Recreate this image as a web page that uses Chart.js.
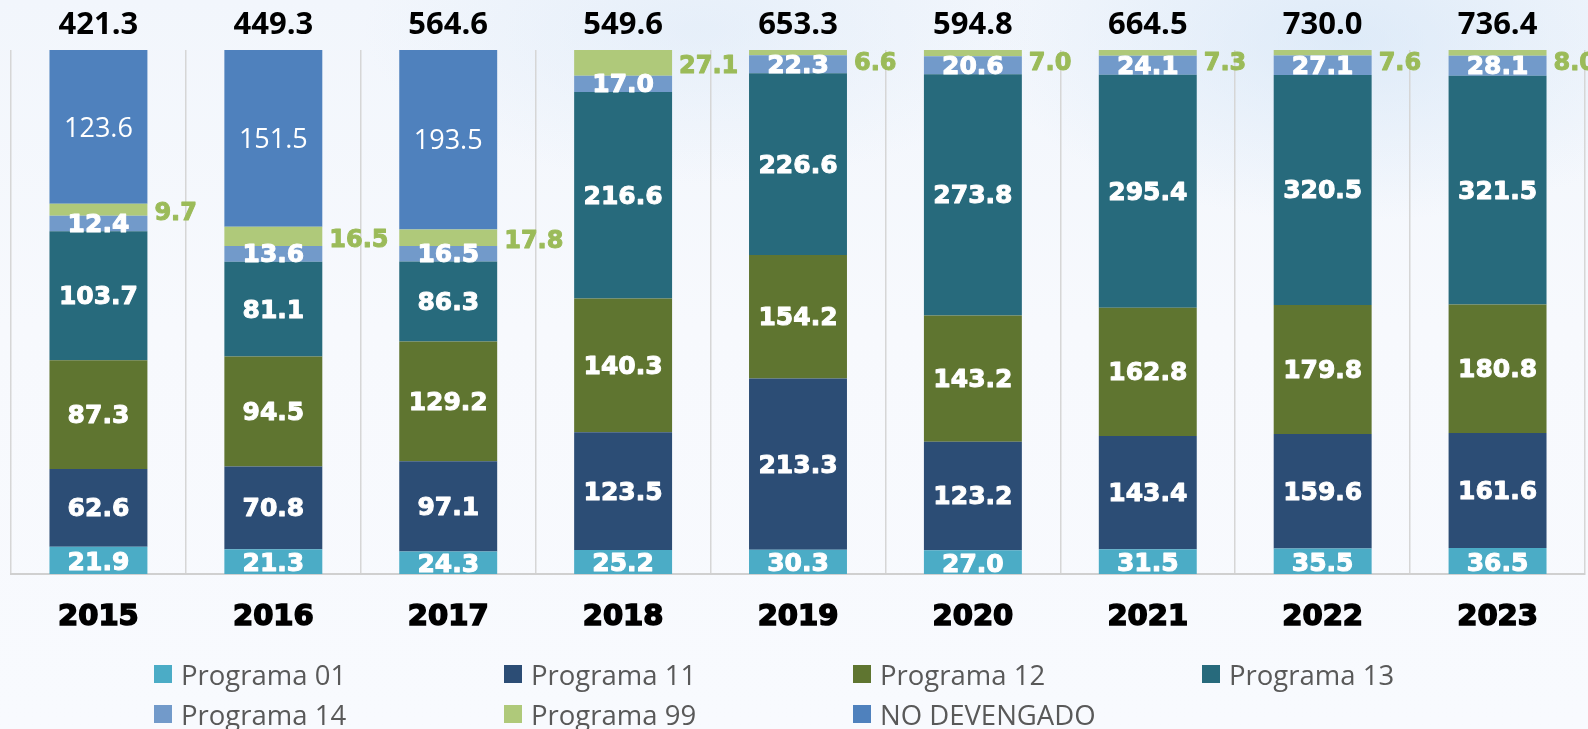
<!DOCTYPE html>
<html>
<head>
<meta charset="utf-8">
<script src="https://cdn.jsdelivr.net/npm/chart.js@4.4.1/dist/chart.umd.min.js"></script>
<style>
    html, body { margin: 0; padding: 0; }
    body {
        width: 1588px; height: 729px; overflow: hidden; position: relative;
        background:
            radial-gradient(ellipse 520px 260px at 1350px 40px, rgba(205, 225, 245, 0.55), rgba(205, 225, 245, 0) 70%),
            radial-gradient(ellipse 480px 220px at 700px 30px, rgba(215, 230, 246, 0.45), rgba(215, 230, 246, 0) 70%),
            linear-gradient(180deg, #f2f6fc 0%, #f7f9fd 45%, #f8fafe 100%);
    }
    #wrap { position: absolute; left: 0; top: 0; width: 1588px; height: 729px; }
    #legend { position: absolute; left: 0; top: 0; width: 1588px; height: 729px; pointer-events: none; }
    .item {
        position: absolute; display: flex; align-items: center;
        font-family: 'Open Sans', sans-serif; font-size: 27.5px; color: #595959;
        white-space: nowrap;
    }
    .item span.box { width: 18px; height: 18px; margin-right: 9px; display: inline-block; }
</style>
</head>
<body>
<div id="wrap"><canvas id="chart"></canvas></div>
<div id="legend"></div>
<script>
const years = ['2015', '2016', '2017', '2018', '2019', '2020', '2021', '2022', '2023'];
const programa01 = [21.9, 21.3, 24.3, 25.2, 30.3, 27.0, 31.5, 35.5, 36.5];
const programa11 = [62.6, 70.8, 97.1, 123.5, 213.3, 123.2, 143.4, 159.6, 161.6];
const programa12 = [87.3, 94.5, 129.2, 140.3, 154.2, 143.2, 162.8, 179.8, 180.8];
const programa13 = [103.7, 81.1, 86.3, 216.6, 226.6, 273.8, 295.4, 320.5, 321.5];
const programa14 = [12.4, 13.6, 16.5, 17.0, 22.3, 20.6, 24.1, 27.1, 28.1];
const programa99 = [9.7, 16.5, 17.8, 27.1, 6.6, 7.0, 7.3, 7.6, 8.0];
const noDevengado = [123.6, 151.5, 193.5, 0, 0, 0, 0, 0, 0];
const totals = [421.3, 449.3, 564.6, 549.6, 653.3, 594.8, 664.5, 730.0, 736.4];

const series = [
    { label: 'Programa 01', values: programa01, color: '#4bacc6' },
    { label: 'Programa 11', values: programa11, color: '#2c4d75' },
    { label: 'Programa 12', values: programa12, color: '#5f7530' },
    { label: 'Programa 13', values: programa13, color: '#276a7c' },
    { label: 'Programa 14', values: programa14, color: '#729aca' },
    { label: 'Programa 99', values: programa99, color: '#afc97a' },
    { label: 'NO DEVENGADO', values: noDevengado, color: '#4f81bd' },
];

// the chart is 100% stacked: each column is scaled to its own sum
const sums = years.map((_, i) => series.reduce((s, d) => s + d.values[i], 0));

function heavyText(ctx, txt, x, y, color, w) {
    ctx.fillStyle = color;
    ctx.strokeStyle = color;
    ctx.lineWidth = w;
    ctx.lineJoin = 'round';
    ctx.strokeText(txt, x, y);
    ctx.fillText(txt, x, y);
}

const labelPlugin = {
    id: 'labels',
    afterDatasetsDraw(chart) {
        const ctx = chart.ctx;
        const area = chart.chartArea;
        ctx.save();
        ctx.textBaseline = 'middle';
        chart.data.datasets.forEach((ds, di) => {
            const meta = chart.getDatasetMeta(di);
            meta.data.forEach((bar, i) => {
                const v = series[di].values[i];
                if (!v) return;
                const mid = (bar.y + bar.base) / 2;
                const txt = v.toFixed(1);
                if (di === 5) {
                    ctx.font = 'bold 24px "DejaVu Sans"';
                    ctx.textAlign = 'left';
                    heavyText(ctx, txt, bar.x + bar.width / 2 + 7, Math.max(mid + 4, 64), '#9bbb59', 1);
                } else if (di === 6) {
                    ctx.font = '27px "Open Sans"';
                    ctx.fillStyle = '#ffffff';
                    ctx.textAlign = 'center';
                    ctx.fillText(txt, bar.x, mid + 2);
                } else {
                    ctx.save();
                    ctx.beginPath();
                    ctx.rect(area.left, area.top, area.right - area.left, area.bottom - area.top);
                    ctx.clip();
                    ctx.font = 'bold 25px "DejaVu Sans"';
                    ctx.textAlign = 'center';
                    heavyText(ctx, txt, bar.x, mid + (di === 0 ? 3 : 2), '#ffffff', 1);
                    ctx.restore();
                }
            });
        });
        // totals over the columns
        const top = chart.getDatasetMeta(0).data;
        ctx.font = 'bold 31px "Open Sans"';
        ctx.fillStyle = '#000000';
        ctx.textAlign = 'center';
        top.forEach((bar, i) => {
            ctx.fillText(totals[i].toFixed(1), bar.x, 25);
        });
        ctx.restore();
    },
};

const canvas = document.getElementById('chart');
canvas.width = 1588;
canvas.height = 729;
canvas.style.width = '1588px';
canvas.style.height = '729px';

new Chart(canvas.getContext('2d'), {
    type: 'bar',
    data: {
        labels: years,
        datasets: series.map(s => ({
            label: s.label,
            data: s.values.map((v, i) => v / sums[i] * 100),
            backgroundColor: s.color,
            borderWidth: 0,
            categoryPercentage: 1,
            barPercentage: 0.56,
        })),
    },
    options: {
        responsive: false,
        animation: false,
        layout: { padding: { top: 50, left: 11, right: 3, bottom: 75 } },
        plugins: { legend: { display: false }, tooltip: { enabled: false } },
        scales: {
            x: {
                stacked: true,
                grid: { display: true, offset: true, drawTicks: false, color: '#d6d6d6', lineWidth: 1.5 },
                border: { display: true, color: '#d0d0d0', width: 2 },
                ticks: {
                    color: '#000000',
                    padding: 26,
                    textStrokeColor: '#000000',
                    textStrokeWidth: 1.6,
                    font: { family: 'DejaVu Sans', weight: 'bold', size: 29 },
                },
                afterFit(scale) { scale.height = 80; },
            },
            y: {
                stacked: true,
                display: false,
                min: 0,
                max: 100,
            },
        },
    },
    plugins: [labelPlugin],
});

// legend laid out in a 4-column grid
const legendCols = [154, 504, 853, 1202];
const legendRows = [674, 714];
const legendEl = document.getElementById('legend');
series.forEach((s, i) => {
    const el = document.createElement('div');
    el.className = 'item';
    el.style.left = legendCols[i % 4] + 'px';
    el.style.top = (legendRows[Math.floor(i / 4)] - 18) + 'px';
    el.style.height = '36px';
    el.innerHTML = `<span class="box" style="background:${s.color}"></span>${s.label}`;
    legendEl.appendChild(el);
});
</script>
</body>
</html>
